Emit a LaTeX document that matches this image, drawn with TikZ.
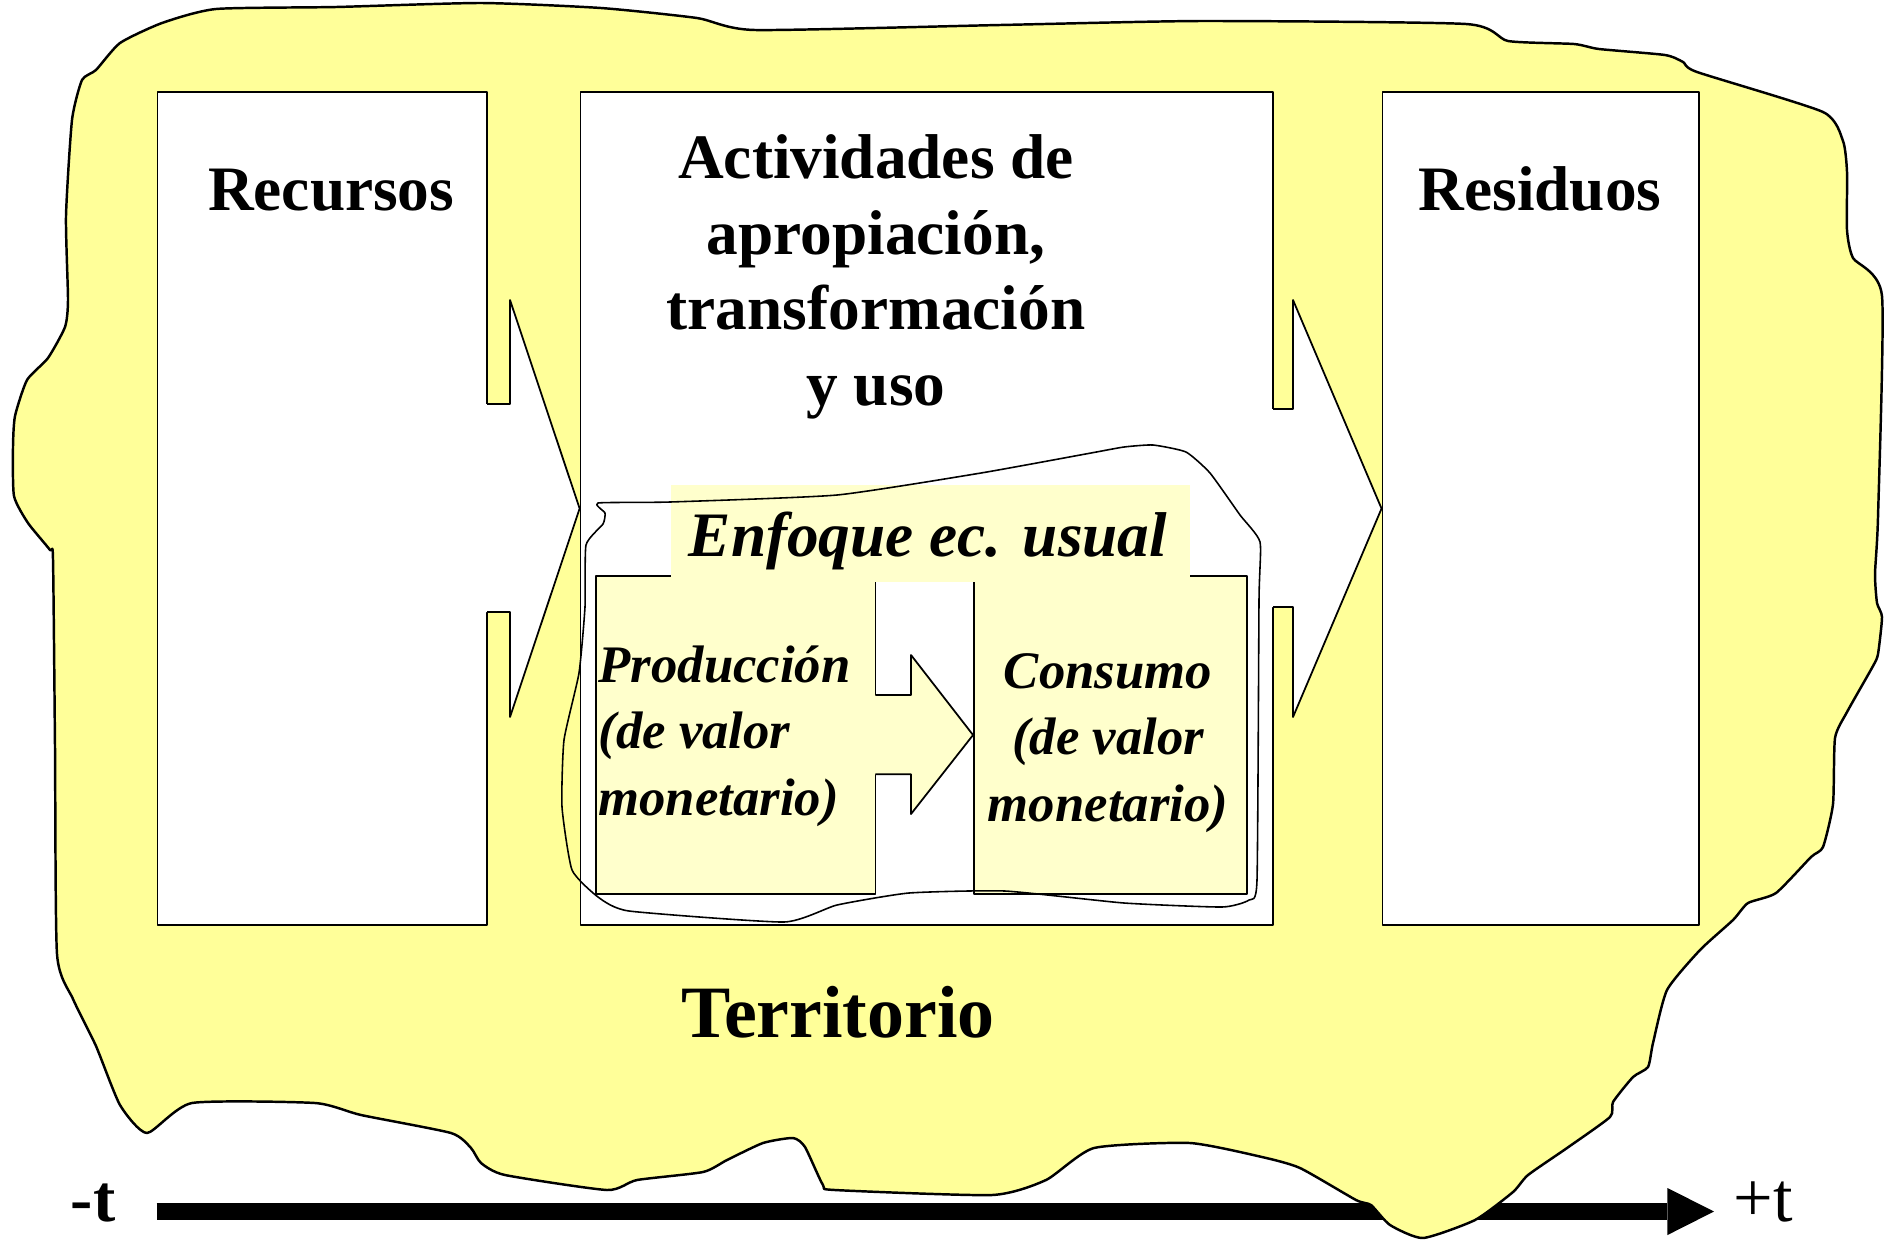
\documentclass[tikz,border=0pt]{standalone}
\usepackage{fontspec}
\setmainfont{Liberation Serif}
\usetikzlibrary{arrows.meta}
\definecolor{terr}{HTML}{FFFF99}
\definecolor{usual}{HTML}{FFFFCC}
\tikzset{
  caja/.style={draw=black, fill=white, line width=0.5pt, inner sep=0pt},
  cajaec/.style={draw=black, fill=usual, line width=0.5pt, inner sep=0pt},
  titulo/.style={font=\bfseries\fontsize{18}{21.5}\selectfont, align=center, inner sep=0pt},
  ectexto/.style={font=\bfseries\itshape\fontsize{15}{18.8}\selectfont, inner sep=0pt},
}
\begin{document}
\begin{tikzpicture}[x=0.01cm,y=-0.01cm,line join=round]
\useasboundingbox (0,0) rectangle (1885,1239);
% eje del tiempo
\node[font=\bfseries\fontsize{19}{19}\selectfont, anchor=base, inner sep=0pt] (tmenos) at (93,1221.7) {-t};
\node[font=\fontsize{20}{20}\selectfont, anchor=base, inner sep=0pt] (tmas) at (1763.5,1221.7) {+t};
\coordinate (ini) at (156.7,1211.5);
\coordinate (fin) at (1714,1211.5);
\draw[line width=0.17cm, -{Triangle[length=0.465cm,width=0.47cm,line width=0pt]}] (ini) -- (fin);
% territorio
\filldraw[fill=terr, line width=0.7pt] plot[smooth cycle, tension=0.35] coordinates {
 (216,9) (336,7) (481,3) (601,8) (697,18) (755,30) (1000,25) (1202,21) (1466,24) (1508,41)
 (1574,44) (1599,49) (1665,55) (1683,62) (1697,72) (1823,112) (1843,141) (1847,172) (1847,230)
 (1853,258) (1882,296) (1878,517) (1875,574) (1877,603) (1882,617) (1878,654) (1873,666)
 (1847,712) (1835,738) (1833,804) (1823,847) (1811,857) (1776,893) (1748,903) (1733,920)
 (1700,950) (1667,990) (1653,1043) (1648,1067) (1633,1077) (1613,1102) (1610,1117) (1567,1148)
 (1528,1175) (1513,1192) (1475,1220) (1423,1238) (1390,1225) (1371,1205) (1356,1200) (1300,1168)
 (1262,1157) (1190,1143) (1094,1148) (1046,1180) (992,1195) (835,1190) (823,1185) (805,1147)
 (793,1138) (763,1143) (727,1160) (703,1172) (637,1180) (607,1190) (505,1175) (481,1163)
 (471,1148) (451,1133) (361,1115) (315,1103) (192,1103) (147,1133) (120,1105) (96,1046)
 (73,999) (57,954) (55,746) (53,559) (50,550) (28,523) (14,496) (13,447) (15,416) (27,380)
 (48,358) (65,327) (68,300) (66,216) (72,120) (82,80) (96,70) (120,43) (162,23)};
% cajas
\node[caja, minimum width=3.295cm, minimum height=8.319cm] (rec) at (322.25,508.55) {};
\node[caja, minimum width=6.923cm, minimum height=8.319cm] (act) at (926.85,508.55) {};
\node[caja, minimum width=3.162cm, minimum height=8.319cm] (res) at (1540.6,508.55) {};
% flechas
\fill[white] (470,404) -- (510,404) -- (510,300) -- (act.west) -- (510,717) -- (510,612) -- (470,612) -- cycle;
\draw[line width=0.5pt] (487,404) -- (510,404) -- (510,300) -- (act.west) -- (510,717) -- (510,612) -- (487,612);
\fill[white] (1260,409) -- (1293,409) -- (1293,300) -- (res.west) -- (1293,717) -- (1293,607) -- (1260,607) -- cycle;
\draw[line width=0.5pt] (1273,409) -- (1293,409) -- (1293,300) -- (res.west) -- (1293,717) -- (1293,607) -- (1273,607);
% enfoque economico usual
\node[cajaec, minimum width=2.79cm, minimum height=3.18cm] (prod) at (735.9,735) {};
\node[cajaec, minimum width=2.726cm, minimum height=3.18cm] (cons) at (1110.3,735) {};
\fill[usual] (860,695) -- (911,695) -- (911,655) -- (cons.west) -- (911,814) -- (911,774.3) -- (860,774.3) -- cycle;
\draw[line width=0.5pt] (875.4,695) -- (911,695) -- (911,655) -- (cons.west) -- (911,814) -- (911,774.3) -- (875.4,774.3);
\node[fill=usual, minimum width=5.19cm, minimum height=0.967cm, inner sep=0pt] (fondo) at (930.5,533.4) {};
\draw[line width=0.45pt] plot[smooth cycle, tension=0.3] coordinates {
 (598,503) (670,502) (837,495) (981,473) (1091,453) (1124,447) (1153,445) (1186,452) (1210,473)
 (1240,515) (1260,542) (1259,600) (1257,880) (1249,900) (1222,907) (1124,903) (1005,891) (909,893) (837,905) (784,922)
 (629,911) (598,897) (572,870) (562,807) (564,740) (579,673) (585,607) (586,545) (603,524) (605,513)};
% textos
\node[titulo, anchor=base] (trec) at (331.2,210.4) {Recursos};
\node[titulo, anchor=base] (tres) at (1540,210.4) {Residuos};
\node[titulo] (tact) at (876,277) {Actividades de\\apropiación,\\transformación\\y uso};
\node[font=\bfseries\itshape\fontsize{18}{18}\selectfont, anchor=base, inner sep=0pt] (enf) at (928,556.7) {Enfoque ec. usual};
\node[ectexto, align=left, anchor=base west] (tprod) at (597.8,815) {Producción\\(de valor\\monetario)};
\node[ectexto, align=center, anchor=base] (tcons) at (1108,821) {Consumo\\(de valor\\monetario)};
\node[font=\bfseries\fontsize{21}{21}\selectfont, anchor=base, inner sep=0pt] (tterr) at (838,1037.5) {Territorio};
\end{tikzpicture}
\end{document}
